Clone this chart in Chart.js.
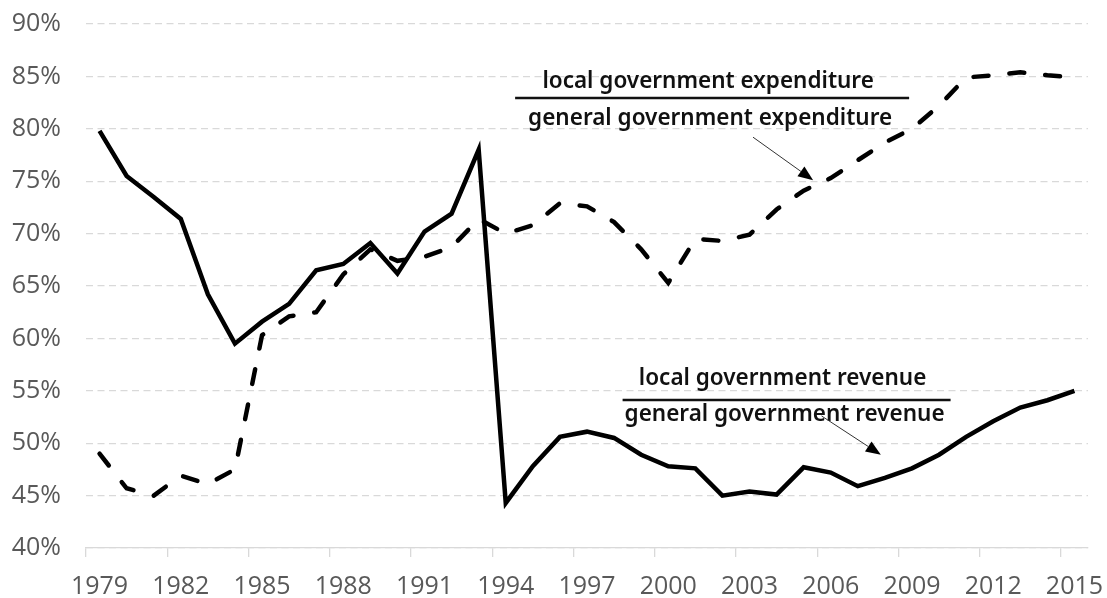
<!DOCTYPE html>
<html>
<head>
<meta charset="utf-8">
<script src="https://cdn.jsdelivr.net/npm/chart.js@4.4.0/dist/chart.umd.min.js"></script>
<style>
  html, body { margin: 0; padding: 0; background: #fff; }
  canvas { display: block; }
</style>
</head>
<body>
<canvas id="shareChart" width="1107" height="598"></canvas>
<script>
const years = ['1979', '1980', '1981', '1982', '1983', '1984', '1985', '1986', '1987', '1988',
  '1989', '1990', '1991', '1992', '1993', '1994', '1995', '1996', '1997', '1998',
  '1999', '2000', '2001', '2002', '2003', '2004', '2005', '2006', '2007', '2008',
  '2009', '2010', '2011', '2012', '2013', '2014', '2015'];

// local / general government revenue, %
const revenueShare = [79.8, 75.5, 73.5, 71.4, 64.2, 59.5, 61.6, 63.3, 66.5, 67.1,
  69.1, 66.2, 70.2, 71.9, 78.0, 44.3, 47.8, 50.6, 51.1, 50.5,
  48.9, 47.8, 47.6, 45.0, 45.4, 45.1, 47.7, 47.2, 45.9, 46.7,
  47.6, 48.9, 50.6, 52.1, 53.4, 54.1, 55.0];

// local / general government expenditure, %
const expenditureShare = [49.0, 45.7, 45.0, 46.9, 46.1, 47.5, 60.3, 62.1, 62.5, 66.1,
  68.5, 67.4, 67.8, 68.7, 71.4, 70.0, 70.8, 72.9, 72.6, 71.1,
  68.5, 65.3, 69.5, 69.3, 69.9, 72.3, 74.1, 75.3, 77.0, 78.7,
  80.0, 82.2, 84.9, 85.1, 85.4, 85.1, 84.9];

const yTicks = [40, 45, 50, 55, 60, 65, 70, 75, 80, 85, 90];

// fraction labels, anchored in data coordinates (x = year index, y = %)
const fractionLabels = [
  { top: 'local government expenditure', bottom: 'general government expenditure',
    x: 22.62, y: 82.94, halfWidth: 197, topGap: 10, bottomGap: 27,
    arrowFrom: [24.13, 79.2], arrowTo: [26.35, 75.1] },
  { top: 'local government revenue', bottom: 'general government revenue',
    x: 25.37, y: 54.12, halfWidth: 164, topGap: 15, bottomGap: 21,
    arrowFrom: [26.66, 52.6], arrowTo: [28.85, 48.9] }
];

const fractionPlugin = {
  id: 'fractions',
  afterDraw(chart) {
    const ctx = chart.ctx;
    const xs = chart.scales.x;
    const ys = chart.scales.y;
    fractionLabels.forEach(f => {
      const cx = xs.getPixelForValue(f.x);
      const cy = ys.getPixelForValue(f.y);
      ctx.save();
      ctx.strokeStyle = '#111';
      ctx.lineWidth = 2.5;
      ctx.beginPath();
      ctx.moveTo(cx - f.halfWidth, cy);
      ctx.lineTo(cx + f.halfWidth, cy);
      ctx.stroke();

      ctx.fillStyle = '#111';
      ctx.font = '600 22.5px "Noto Sans", "Open Sans", sans-serif';
      ctx.textAlign = 'center';
      ctx.textBaseline = 'alphabetic';
      ctx.fillText(f.top, cx - 4, cy - f.topGap);
      ctx.fillText(f.bottom, cx - 2, cy + f.bottomGap);

      // arrow
      const x1 = xs.getPixelForValue(f.arrowFrom[0]);
      const y1 = ys.getPixelForValue(f.arrowFrom[1]);
      const x2 = xs.getPixelForValue(f.arrowTo[0]);
      const y2 = ys.getPixelForValue(f.arrowTo[1]);
      const ang = Math.atan2(y2 - y1, x2 - x1);
      const headLen = 15, headW = 6;
      const bx = x2 - headLen * Math.cos(ang);
      const by = y2 - headLen * Math.sin(ang);
      ctx.strokeStyle = '#333';
      ctx.lineWidth = 1;
      ctx.beginPath();
      ctx.moveTo(x1, y1);
      ctx.lineTo(bx, by);
      ctx.stroke();
      ctx.fillStyle = '#000';
      ctx.beginPath();
      ctx.moveTo(x2, y2);
      ctx.lineTo(bx + headW * Math.sin(ang), by - headW * Math.cos(ang));
      ctx.lineTo(bx - headW * Math.sin(ang), by + headW * Math.cos(ang));
      ctx.closePath();
      ctx.fill();
      ctx.restore();
    });
  }
};

const tickFont = { family: '"Open Sans", sans-serif', size: 25 };

function noAutoPadding(scale) {
  scale.paddingTop = 0;
  scale.paddingBottom = 0;
  scale.paddingLeft = 0;
  scale.paddingRight = 0;
}

new Chart(document.getElementById('shareChart').getContext('2d'), {
  type: 'line',
  data: {
    labels: years,
    datasets: [
      {
        label: 'local / general government revenue',
        data: revenueShare,
        borderColor: '#000',
        borderWidth: 4.5,
        pointRadius: 0,
        fill: false,
        tension: 0
      },
      {
        label: 'local / general government expenditure',
        data: expenditureShare,
        borderColor: '#000',
        borderWidth: 4.5,
        borderDash: [15, 21],
        borderCapStyle: 'round',
        pointRadius: 0,
        fill: false,
        tension: 0
      }
    ]
  },
  options: {
    responsive: false,
    animation: false,
    layout: { padding: { left: 11, right: 19, top: 24, bottom: 0 } },
    plugins: {
      legend: { display: false },
      tooltip: { enabled: false }
    },
    scales: {
      x: {
        offset: true,
        afterFit: scale => { scale.height = 50; noAutoPadding(scale); },
        grid: {
          offset: true,
          drawOnChartArea: false,
          drawTicks: true,
          tickLength: 9,
          lineWidth: 1.3,
          color: ctx => (ctx.index % 3 === 0 ? '#d9d9d9' : 'rgba(0,0,0,0)')
        },
        border: { color: '#d9d9d9', width: 1.3 },
        ticks: {
          autoSkip: false,
          maxRotation: 0,
          padding: 15,
          color: '#595959',
          font: tickFont,
          callback: (v, i) => (i % 3 === 0 ? years[i] : '')
        }
      },
      y: {
        min: 40,
        max: 90,
        afterFit: scale => { scale.width = 75; noAutoPadding(scale); },
        afterBuildTicks: scale => { scale.ticks = yTicks.map(v => ({ value: v })); },
        grid: { color: '#d9d9d9', lineWidth: 1.3, drawTicks: false },
        border: { display: false, dash: [7, 4.5] },
        ticks: {
          padding: 25,
          color: '#595959',
          font: tickFont,
          callback: v => v + '%'
        }
      }
    }
  },
  plugins: [fractionPlugin]
});
</script>
</body>
</html>
